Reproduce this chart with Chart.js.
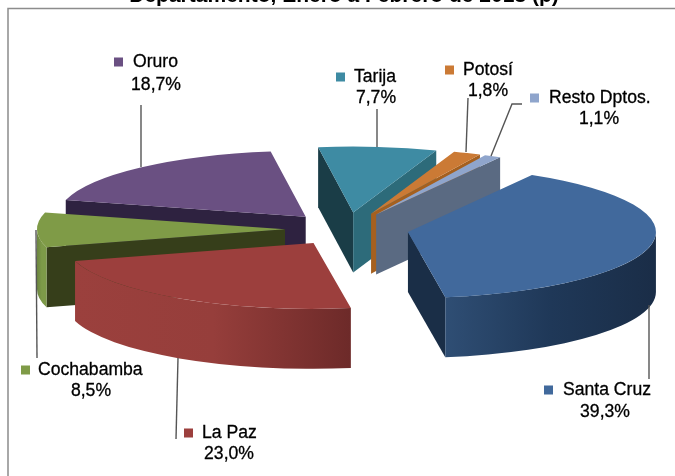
<!DOCTYPE html>
<html>
<head>
<meta charset="utf-8">
<title>Departamento, Enero a Febrero de 2013 (p)</title>
<script src="https://cdn.jsdelivr.net/npm/chart.js@4/dist/chart.umd.min.js"></script>
<style>
    html, body { margin: 0; padding: 0; background: #fff; }
    canvas { display: block; }
</style>
</head>
<body>
<canvas id="chart" width="675" height="476"></canvas>
<script>
// Data
const titleText = 'Departamento, Enero a Febrero de 2013 (p)';
const categories = ['Santa Cruz', 'La Paz', 'Cochabamba', 'Oruro', 'Tarija', 'Potosí', 'Resto Dptos.'];
const shares = [39.3, 23.0, 8.5, 18.7, 7.7, 1.8, 1.1];

// Slice colours: top surface, the two cut faces, the rim (left to right)
const topColors = ['#41699c', '#9c3f3d', '#7f9b47', '#6a5082', '#3e8ba3', '#cb7a35', '#8fa5cc'];
const startFaceColors = ['#1a2e47', '#6d2a29', '#363e1a', '#2e2240', '#1a3d47', '#8a4f1f', '#5a6a82'];
const endFaceColors = ['#1a2e47', '#6d2a29', '#363e1a', '#2e2240', '#2d6b7a', '#a5601f', '#5a6a82'];
const rimColors = [
    ['#2f4e74', '#1f3858', '#1a2d47'],
    ['#9b403d', '#963e3b', '#6d2a29'],
    ['#6c8540', '#7d9a48', '#7d9a48'],
    ['#2e2240', '#2e2240', '#2e2240'],
    ['#2d6b7a', '#2d6b7a', '#2d6b7a'],
    ['#a5601f', '#a5601f', '#a5601f'],
    ['#5a6a82', '#5a6a82', '#5a6a82']
];

// Back slices first so the nearer ones paint over them
const drawOrder = [3, 2, 1, 4, 5, 6, 0];

// Pie look
const pieRadius = 248;
const tilt = 0.266;
const depth = 60;
const explode = 62;

// Label placement: legend key left edge, first line centre y, name x, percent centre x, second line y
const labelSpots = [
    { key: 544, name: 563, y: 390, pct: 605, pctY: 412 },
    { key: 184, name: 202, y: 433, pct: 229, pctY: 454 },
    { key: 21, name: 38, y: 370, pct: 91, pctY: 391 },
    { key: 114, name: 133, y: 62, pct: 156, pctY: 85 },
    { key: 336, name: 354, y: 77, pct: 376, pctY: 98 },
    { key: 445, name: 463, y: 70, pct: 488, pctY: 91 },
    { key: 530, name: 549, y: 98, pct: 599, pctY: 119 }
];
const leaderLines = [
    [[649, 305], [649, 379]],
    [[178, 358], [176, 439]],
    [[36, 230], [37, 358]],
    [[141, 105], [141, 167]],
    [[377, 109], [377, 147]],
    [[468, 98], [466, 152]],
    [[522, 104], [512, 104], [491, 156]]
];

const fontFamily = '"Liberation Sans", Arial, sans-serif';

function drawSlice(ctx, arc, i) {
    const { x, y, startAngle, endAngle, outerRadius } = arc.getProps(['x', 'y', 'startAngle', 'endAngle', 'outerRadius'], true);
    const mid = (startAngle + endAngle) / 2;
    const drop = depth / tilt;
    const r = outerRadius;

    ctx.save();
    // squash the round pie into a lying disc, then pull the slice out
    ctx.translate(x, y);
    ctx.scale(1, tilt);
    ctx.translate(-x, -y);
    ctx.translate(Math.cos(mid) * explode, Math.sin(mid) * explode);

    // Cut face on the start edge
    if (Math.cos(startAngle) < 0) {
        ctx.fillStyle = startFaceColors[i];
        ctx.beginPath();
        ctx.moveTo(x, y);
        ctx.lineTo(x + Math.cos(startAngle) * r, y + Math.sin(startAngle) * r);
        ctx.lineTo(x + Math.cos(startAngle) * r, y + Math.sin(startAngle) * r + drop);
        ctx.lineTo(x, y + drop);
        ctx.closePath();
        ctx.fill();
    }
    // Cut face on the end edge
    if (Math.cos(endAngle) > 0) {
        ctx.fillStyle = endFaceColors[i];
        ctx.beginPath();
        ctx.moveTo(x, y);
        ctx.lineTo(x + Math.cos(endAngle) * r, y + Math.sin(endAngle) * r);
        ctx.lineTo(x + Math.cos(endAngle) * r, y + Math.sin(endAngle) * r + drop);
        ctx.lineTo(x, y + drop);
        ctx.closePath();
        ctx.fill();
    }
    // Outer rim, only the part that faces the viewer
    let a0 = startAngle, a1 = endAngle;
    const full = Math.PI * 2;
    while (a0 < 0) { a0 += full; a1 += full; }
    while (a0 >= full) { a0 -= full; a1 -= full; }
    const candidates = [[Math.max(a0, 0), Math.min(a1, Math.PI)], [Math.max(a0, full), Math.min(a1, full + Math.PI)]];
    candidates.forEach(([from, to]) => {
        if (to <= from) return;
        const xs = [x + Math.cos(from) * r, x + Math.cos(to) * r];
        const grad = ctx.createLinearGradient(Math.min(...xs), 0, Math.max(...xs), 0);
        rimColors[i].forEach((c, k) => grad.addColorStop(k / (rimColors[i].length - 1), c));
        ctx.fillStyle = grad;
        ctx.beginPath();
        ctx.arc(x, y, r, from, to);
        ctx.arc(x, y + drop, r, to, from, true);
        ctx.closePath();
        ctx.fill();
    });

    // Top surface is the library's own arc element
    arc.draw(ctx);
    ctx.restore();
}

const pie3d = {
    id: 'pie3d',
    beforeDraw(chart) {
        const ctx = chart.ctx;
        ctx.save();
        ctx.fillStyle = '#fff';
        ctx.fillRect(0, 0, chart.width, chart.height);
        // Frame, only top and left are inside the picture
        ctx.strokeStyle = '#8c8c8c';
        ctx.lineWidth = 1.5;
        ctx.beginPath();
        ctx.moveTo(8, chart.height);
        ctx.lineTo(8, 8.5);
        ctx.lineTo(chart.width, 8.5);
        ctx.stroke();
        // Title is cut off by the top of the picture
        ctx.fillStyle = '#000';
        ctx.font = 'bold 21px ' + fontFamily;
        ctx.textAlign = 'center';
        ctx.textBaseline = 'alphabetic';
        ctx.fillText(titleText, 344, 2);
        ctx.restore();
    },
    beforeDatasetsDraw(chart) {
        const ctx = chart.ctx;
        const arcs = chart.getDatasetMeta(0).data;
        drawOrder.forEach(i => drawSlice(ctx, arcs[i], i));
        return false;
    },
    afterDraw(chart) {
        const ctx = chart.ctx;
        ctx.save();
        ctx.strokeStyle = '#555';
        ctx.lineWidth = 1.4;
        leaderLines.forEach(points => {
            ctx.beginPath();
            points.forEach(([px, py], k) => k ? ctx.lineTo(px, py) : ctx.moveTo(px, py));
            ctx.stroke();
        });
        ctx.font = '17.6px ' + fontFamily;
        ctx.textBaseline = 'middle';
        ctx.strokeStyle = '#000';
        ctx.lineWidth = 0.3;
        categories.forEach((name, i) => {
            const spot = labelSpots[i];
            const pctText = shares[i].toFixed(1).replace('.', ',') + '%';
            ctx.fillStyle = topColors[i];
            ctx.fillRect(spot.key, spot.y - 4.5, 9, 9);
            ctx.fillStyle = '#000';
            ctx.textAlign = 'left';
            ctx.fillText(name, spot.name, spot.y);
            ctx.strokeText(name, spot.name, spot.y);
            ctx.textAlign = 'center';
            ctx.fillText(pctText, spot.pct, spot.pctY);
            ctx.strokeText(pctText, spot.pct, spot.pctY);
        });
        ctx.restore();
    }
};

new Chart(document.getElementById('chart'), {
    type: 'pie',
    data: {
        labels: categories,
        datasets: [{
            data: shares,
            backgroundColor: topColors,
            borderWidth: 0
        }]
    },
    options: {
        responsive: false,
        animation: false,
        rotation: 30,
        radius: pieRadius,
        layout: { padding: { left: 19, bottom: 18 } },
        plugins: {
            legend: { display: false },
            tooltip: { enabled: false }
        }
    },
    plugins: [pie3d]
});
</script>
</body>
</html>
